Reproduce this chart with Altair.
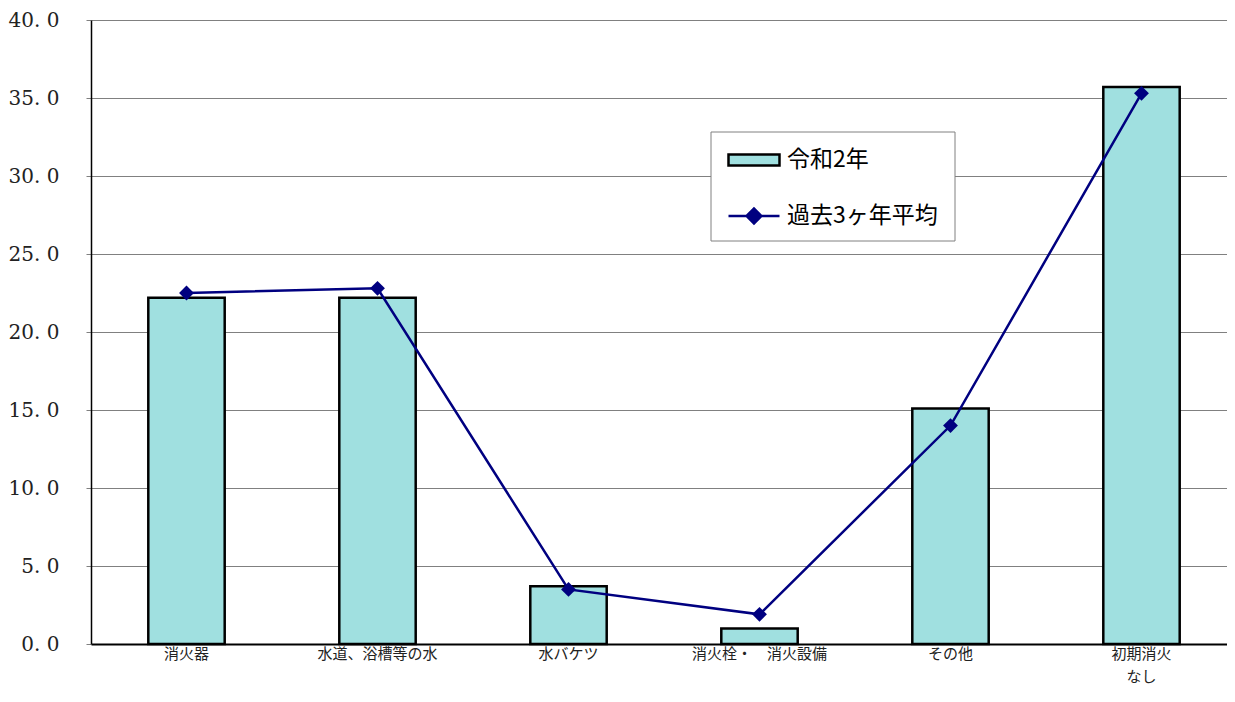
import altair as alt
import pandas as pd

categories = ["消火器", "水道、浴槽等の水", "水バケツ", "消火栓・　消火設備", "その他", "初期消火\nなし"]
r2_values = [22.2, 22.2, 3.7, 1.0, 15.1, 35.7]
avg_values = [22.5, 22.8, 3.5, 1.9, 14.0, 35.3]
series_names = ["令和2年", "過去3ヶ年平均"]
y_ticks = [0, 5, 10, 15, 20, 25, 30, 35, 40]

df = pd.DataFrame({
    "category": categories,
    "r2": r2_values,
    "avg": avg_values,
    "s1": series_names[0],
    "s2": series_names[1],
    "line2": [c.split("\n")[1] if "\n" in c else "" for c in categories],
})

JP = "Noto Sans CJK JP"

x_enc = alt.X(
    "category:N", sort=categories,
    scale=alt.Scale(paddingInner=0.6, paddingOuter=0.3, range=[0, 1146]),
    axis=alt.Axis(title=None, labelAngle=0, ticks=False, grid=False,
                  labelExpr="split(datum.label, '\\n')[0]",
                  labelAlign="center", labelBaseline="top",
                  labelFont=JP, labelFontSize=15, labelColor="#222",
                  labelPadding=2,
                  domainColor="black", domainWidth=2),
)
y_scale = alt.Scale(domain=[0, 40], nice=False)

bars = alt.Chart(df).mark_bar(stroke="black", strokeWidth=2.5).encode(
    x=x_enc,
    y=alt.Y("r2:Q", scale=y_scale,
            axis=alt.Axis(title=None, values=y_ticks,
                          labelExpr="replace(format(datum.value, '.1f'), '.', '. ')",
                          labelFont="DejaVu Serif", labelFontSize=20, labelColor="#222",
                          labelPadding=27, tickSize=5, tickColor="#808080",
                          gridColor="#808080", gridWidth=1,
                          domainColor="black", domainWidth=1.5)),
    fill=alt.Fill("s1:N", scale=alt.Scale(domain=[series_names[0]], range=["#A0E0E0"]),
                  legend=alt.Legend(title=None, orient="none", legendX=636, legendY=113,
                                    symbolType="M-1,-0.22H1V0.22H-1Z", symbolSize=2601,
                                    symbolStrokeColor="black", symbolStrokeWidth=2.5,
                                    labelFont=JP, labelFontSize=23, labelColor="black",
                                    labelOffset=6, padding=0)),
)

line = alt.Chart(df).mark_line(strokeWidth=2.5).encode(
    x=x_enc,
    y=alt.Y("avg:Q", scale=y_scale),
    stroke=alt.Stroke("s2:N", scale=alt.Scale(domain=[series_names[1]], range=["#000080"]),
                      legend=alt.Legend(title=None, orient="none", legendX=636, legendY=169,
                                        symbolType="M-1,0H1M-0.29,0L0,-0.29L0.29,0L0,0.29Z",
                                        symbolSize=2601, symbolStrokeWidth=2.5,
                                        symbolFillColor="#000080",
                                        labelFont=JP, labelFontSize=23, labelColor="black",
                                        labelOffset=6, padding=0)),
)

points = alt.Chart(df).mark_point(shape="diamond", filled=True, size=220,
                                  color="#000080", opacity=1).encode(
    x=x_enc,
    y=alt.Y("avg:Q", scale=y_scale),
)

second_lines = alt.Chart(df).transform_filter("datum.line2 != ''").mark_text(
    font=JP, fontSize=15, color="#222", baseline="top", align="center", dy=26).encode(
    x=x_enc,
    y=alt.value(624),
    text="line2:N",
)

band_ticks = alt.Chart(df).mark_rule(color="#808080", strokeWidth=1).encode(
    x=alt.X("category:N", sort=categories, bandPosition=0),
    y=alt.value(618),
    y2=alt.value(624),
)

legend_box = alt.Chart(pd.DataFrame({"a": [0]})).mark_rect(
    fill="white", stroke="#808080", strokeWidth=1).encode(
    x=alt.value(620), x2=alt.value(864), y=alt.value(112), y2=alt.value(221))

chart = alt.layer(band_ticks, bars, line, points, second_lines, legend_box).properties(
    width=1136, height=624,
    autosize=alt.AutoSizeParams(type="none"),
    padding={"left": 83, "right": 0, "top": 12, "bottom": 48},
).configure_view(strokeWidth=0)

chart.save("out.html", embed_options={"renderer": "svg", "actions": False})
